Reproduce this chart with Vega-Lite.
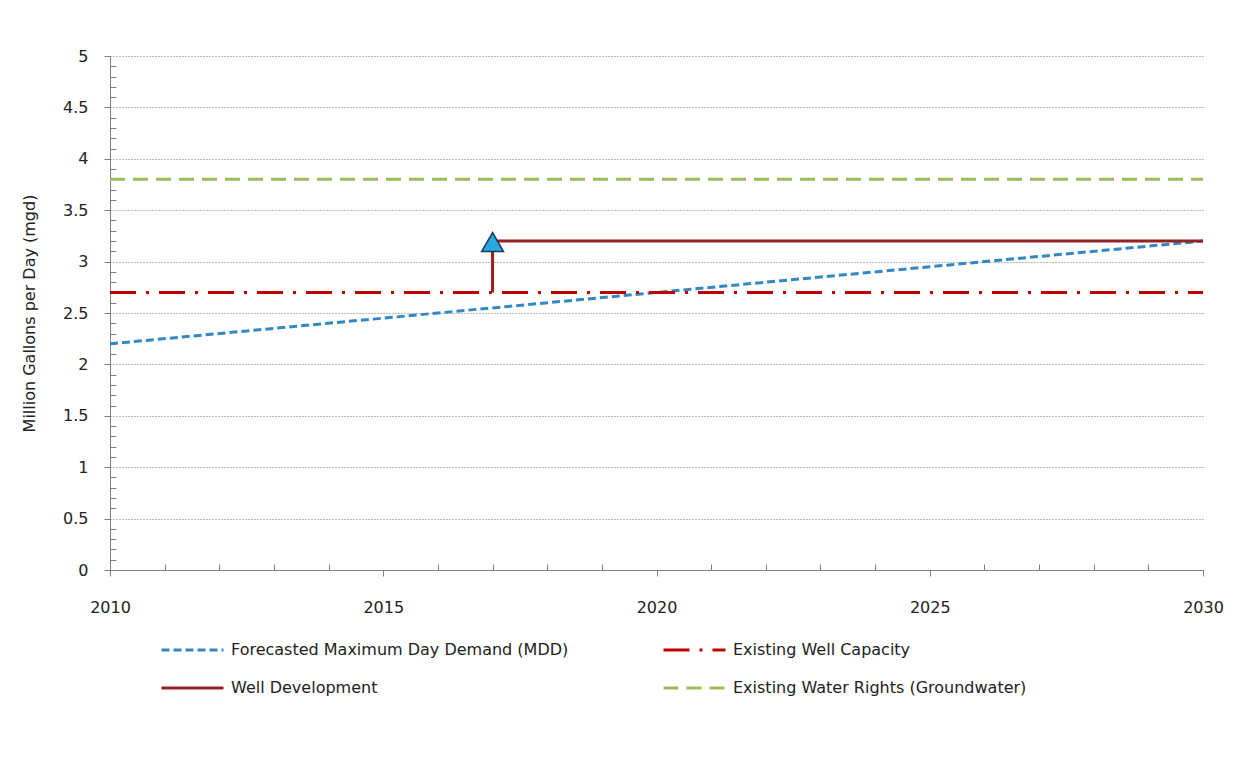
{
  "$schema": "https://vega.github.io/schema/vega-lite/v6.json",
  "width": 1093,
  "height": 514,
  "autosize": "none",
  "padding": {"left": 110, "top": 56, "right": 49, "bottom": 192},
  "background": "white",
  "config": {
    "view": {"stroke": null},
    "font": "DejaVu Sans",
    "axis": {"labelFont": "DejaVu Sans", "titleFont": "DejaVu Sans", "labelColor": "#222", "titleColor": "#222", "labelFontSize": 16, "titleFontSize": 16, "titleFontWeight": "normal", "domainColor": "#808080", "tickColor": "#808080"}
  },
  "datasets": {
    "lines": [
      {"series": "Forecasted Maximum  Day Demand  (MDD)", "year": 2010, "value": 2.2, "order": 1},
      {"series": "Forecasted Maximum  Day Demand  (MDD)", "year": 2030, "value": 3.2, "order": 2},
      {"series": "Existing Well Capacity", "year": 2010, "value": 2.7, "order": 1},
      {"series": "Existing Well Capacity", "year": 2030, "value": 2.7, "order": 2},
      {"series": "Well Development", "year": 2017, "value": 2.7, "order": 1},
      {"series": "Well Development", "year": 2017, "value": 3.2, "order": 2},
      {"series": "Well Development", "year": 2030, "value": 3.2, "order": 3},
      {"series": "Existing Water Rights  (Groundwater)", "year": 2010, "value": 3.8, "order": 1},
      {"series": "Existing Water Rights  (Groundwater)", "year": 2030, "value": 3.8, "order": 2}
    ],
    "marker": [{"year": 2017, "value": 3.19}]
  },
  "resolve": {"axis": {"x": "independent", "y": "independent"}},
  "layer": [
    {
      "data": {"name": "lines"},
      "mark": {"type": "line", "strokeCap": "butt"},
      "encoding": {
        "x": {"field": "year", "type": "quantitative", "scale": {"domain": [2010, 2030], "nice": false, "zero": false},
          "axis": {"title": null, "values": [2010, 2015, 2020, 2025, 2030], "format": "d", "grid": false, "tickSize": 6, "labelPadding": 23, "labelFlush": false, "orient": "bottom"}},
        "y": {"field": "value", "type": "quantitative", "scale": {"domain": [0, 5], "nice": false},
          "axis": {"title": "Million Gallons per Day (mgd)", "values": [0, 0.5, 1, 1.5, 2, 2.5, 3, 3.5, 4, 4.5, 5], "format": "~g", "grid": true, "gridDash": [1, 2], "gridColor": "#777", "gridWidth": 1, "tickSize": 6, "labelPadding": 16, "titlePadding": 25, "orient": "left"}},
        "order": {"field": "order"},
        "color": {"field": "series", "type": "nominal",
          "scale": {"domain": ["Forecasted Maximum  Day Demand  (MDD)", "Well Development", "Existing Well Capacity", "Existing Water Rights  (Groundwater)"],
                    "range": ["#3288C2", "#942222", "#C00000", "#9BBB59"]},
          "legend": {"title": null, "orient": "none", "legendX": 50, "legendY": 586, "columns": 2, "columnPadding": 83, "rowPadding": 22, "clipHeight": 16,
                     "symbolType": "stroke", "symbolSize": 3844, "symbolStrokeWidth": 3, "labelFontSize": 16, "labelFont": "DejaVu Sans", "labelColor": "#222", "labelOffset": 6, "labelLimit": 500}},
        "strokeDash": {"field": "series", "type": "nominal",
          "scale": {"domain": ["Forecasted Maximum  Day Demand  (MDD)", "Well Development", "Existing Well Capacity", "Existing Water Rights  (Groundwater)"],
                    "range": [[8, 4], [1, 0], [26, 10, 3, 10], [15, 8]]}},
        "strokeWidth": {"field": "series", "type": "nominal", "legend": null,
          "scale": {"domain": ["Forecasted Maximum  Day Demand  (MDD)", "Well Development", "Existing Well Capacity", "Existing Water Rights  (Groundwater)"],
                    "range": [3, 3, 3, 4]}}
      }
    },
    {
      "data": {"name": "marker"},
      "mark": {"type": "point", "shape": "triangle-up", "filled": true, "fill": "#29A8DF", "stroke": "#1E3A55", "strokeWidth": 1.5, "opacity": 1, "size": 480},
      "encoding": {
        "x": {"field": "year", "type": "quantitative",
          "axis": {"title": null, "values": [2011, 2012, 2013, 2014, 2016, 2017, 2018, 2019, 2021, 2022, 2023, 2024, 2026, 2027, 2028, 2029], "labels": false, "grid": false, "domain": false, "tickSize": -6, "orient": "bottom", "offset": 0}},
        "y": {"field": "value", "type": "quantitative",
          "axis": {"title": null, "values": [0.1, 0.2, 0.3, 0.4, 0.6, 0.7, 0.8, 0.9, 1.1, 1.2, 1.3, 1.4, 1.6, 1.7, 1.8, 1.9, 2.1, 2.2, 2.3, 2.4, 2.6, 2.7, 2.8, 2.9, 3.1, 3.2, 3.3, 3.4, 3.6, 3.7, 3.8, 3.9, 4.1, 4.2, 4.3, 4.4, 4.6, 4.7, 4.8, 4.9], "labels": false, "grid": false, "domain": false, "tickSize": -6, "orient": "left", "offset": 0}}
      }
    }
  ]
}
